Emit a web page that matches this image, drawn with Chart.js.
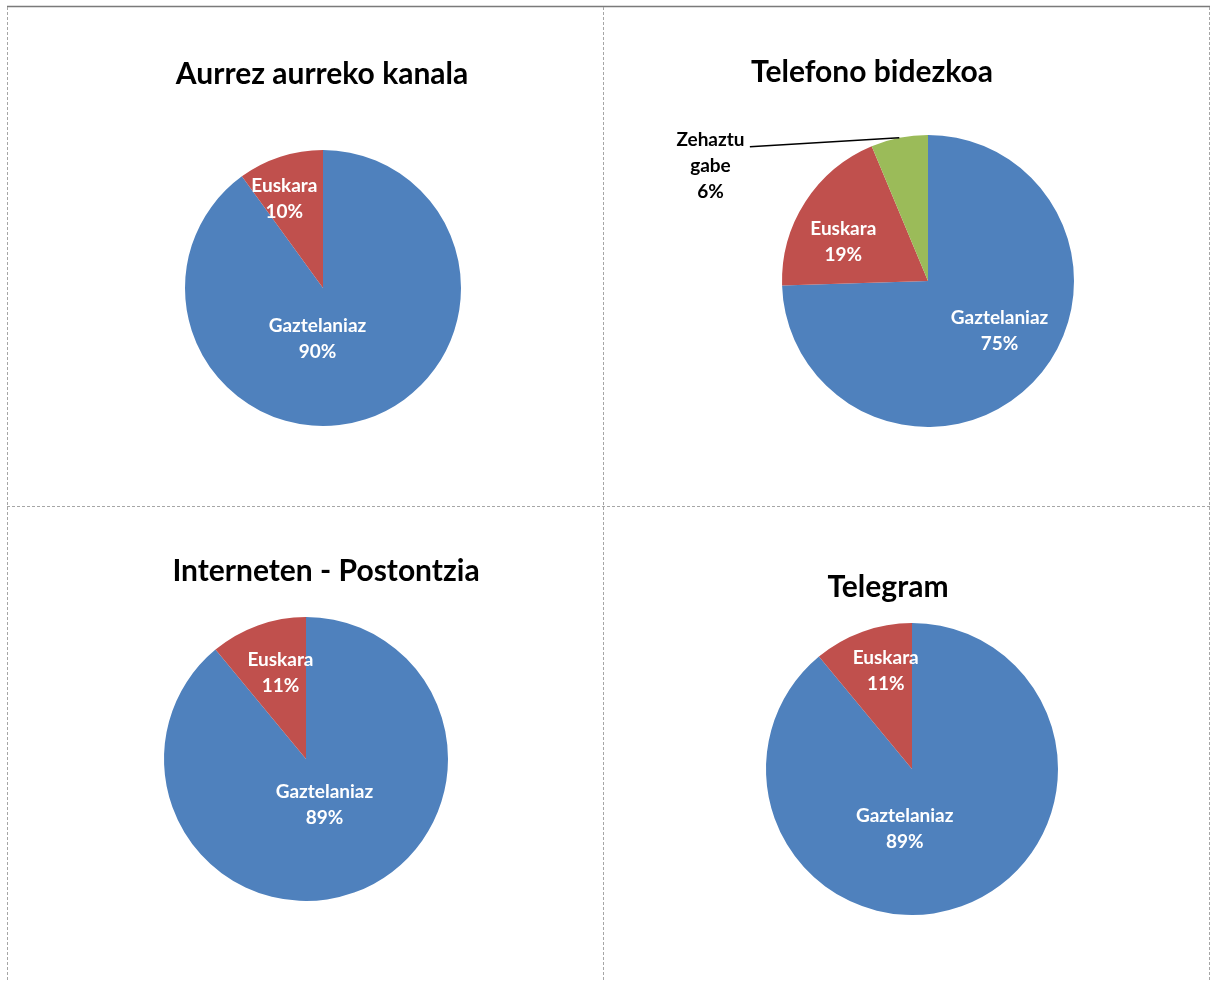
<!DOCTYPE html>
<html>
<head>
<meta charset="utf-8">
<script src="https://cdn.jsdelivr.net/npm/chart.js@4.4.0/dist/chart.umd.min.js"></script>
<style>
  body { margin: 0; background: #fff; }
  #page { position: relative; width: 1212px; height: 981px; overflow: hidden; }
  #page canvas { position: absolute; left: 0; top: 0; }
</style>
</head>
<body>
<div id="page">
  <canvas id="frame" width="1212" height="981"></canvas>
  <canvas id="c1" width="1212" height="981"></canvas>
  <canvas id="c2" width="1212" height="981"></canvas>
  <canvas id="c3" width="1212" height="981"></canvas>
  <canvas id="c4" width="1212" height="981"></canvas>
</div>
<script>
// data
const titles = ['Aurrez aurreko kanala', 'Telefono bidezkoa', 'Interneten - Postontzia', 'Telegram'];
const catsTwo = ['Gaztelaniaz', 'Euskara'];
const catsThree = ['Gaztelaniaz', 'Euskara', 'Zehaztu gabe'];
const aurrezValues = [90, 10];
const telefonoValues = [74.5, 19.2, 6.3];
const internetValues = [89, 11];
const telegramValues = [89, 11];

const COLORS = ['#4F81BD', '#C0504D', '#9BBB59'];
const W = 1212, H = 981;
const FONT = 'Lato, "Open Sans", sans-serif';

// frame (dashed grid like the sheet cells)
(function () {
  const ctx = document.getElementById('frame').getContext('2d');
  ctx.strokeStyle = '#7a7a7a';
  ctx.lineWidth = 1.5;
  ctx.beginPath(); ctx.moveTo(7, 6.5); ctx.lineTo(1210, 6.5); ctx.stroke();
  ctx.strokeStyle = '#a6a6a6';
  ctx.lineWidth = 1;
  ctx.setLineDash([3, 2]);
  [7.5, 603.5, 1209.5].forEach(x => {
    ctx.beginPath(); ctx.moveTo(x, 7); ctx.lineTo(x, H); ctx.stroke();
  });
  ctx.beginPath(); ctx.moveTo(7, 506.5); ctx.lineTo(1210, 506.5); ctx.stroke();
})();

// labels + title drawn on top of the arcs
const pieText = {
  id: 'pieText',
  afterDatasetsDraw(chart, args, opts) {
    const ctx = chart.ctx;
    const meta = chart.getDatasetMeta(0);
    const vals = chart.data.datasets[0].data;
    ctx.save();
    ctx.textAlign = 'center';
    ctx.textBaseline = 'middle';
    meta.data.forEach((arc, i) => {
      const r = arc.outerRadius;
      const off = opts.offsets[i];
      const lines = chart.data.labels[i].split(' ').concat([Math.round(vals[i]) + '%']);
      const lx = arc.x + off[0] * r, ly = arc.y + off[1] * r;
      if (opts.outside && opts.outside[i]) {
        const mid = (arc.startAngle + arc.endAngle) / 2;
        const s = opts.outside[i];
        ctx.strokeStyle = '#000';
        ctx.lineWidth = 1.5;
        ctx.beginPath();
        ctx.moveTo(arc.x + s[0] * r, arc.y + s[1] * r);
        ctx.lineTo(arc.x + Math.cos(mid) * r, arc.y + Math.sin(mid) * r);
        ctx.stroke();
        ctx.fillStyle = '#000';
      } else {
        ctx.fillStyle = '#fff';
      }
      ctx.font = 'bold 19px ' + FONT;
      const lh = 26;
      lines.forEach((t, k) => {
        ctx.fillText(t, lx, ly + (k - (lines.length - 1) / 2) * lh);
      });
    });
    ctx.fillStyle = '#000';
    ctx.font = 'bold 30px ' + FONT;
    ctx.fillText(opts.title, opts.titlePos[0], opts.titlePos[1]);
    ctx.restore();
  }
};

function makePie(id, labels, values, title, cx, cy, r, titlePos, offsets, outside) {
  new Chart(document.getElementById(id), {
    type: 'pie',
    data: {
      labels: labels,
      datasets: [{ data: values, backgroundColor: COLORS.slice(0, values.length), borderWidth: 0 }]
    },
    options: {
      responsive: false,
      animation: false,
      layout: { padding: { left: cx - r, top: cy - r, right: W - cx - r, bottom: H - cy - r } },
      plugins: {
        legend: { display: false },
        tooltip: { enabled: false },
        pieText: { title: title, titlePos: titlePos, offsets: offsets, outside: outside }
      }
    },
    plugins: [pieText]
  });
}

makePie('c1', catsTwo, aurrezValues, titles[0], 323, 288, 138, [322, 74],
  [[-0.04, 0.37], [-0.28, -0.645]]);
makePie('c2', catsThree, telefonoValues, titles[1], 928, 281, 146, [872, 72],
  [[0.49, 0.34], [-0.58, -0.27], [-1.49, -0.79]], [null, null, [-1.22, -0.92]]);
makePie('c3', catsTwo, internetValues, titles[2], 306, 759, 142, [326, 571],
  [[0.13, 0.32], [-0.18, -0.61]]);
makePie('c4', catsTwo, telegramValues, titles[3], 912, 769, 146, [888, 587],
  [[-0.05, 0.41], [-0.18, -0.67]]);
</script>
</body>
</html>
